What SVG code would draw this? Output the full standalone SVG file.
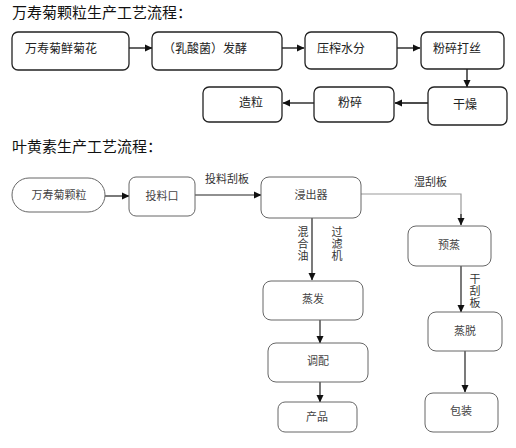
<svg xmlns="http://www.w3.org/2000/svg" width="516" height="448" viewBox="0 0 516 448">
<style>
text{font-family:"Noto Sans CJK SC","Liberation Sans",sans-serif;}
.title{font-size:15px;fill:#111;}
.t1{font-size:12px;fill:#222;}
.t2{font-size:11px;fill:#444;text-anchor:middle;}
.lbl{font-size:11px;fill:#333;}
.vl{font-size:11px;fill:#333;writing-mode:vertical-rl;letter-spacing:1px;}
.b1{fill:#fff;stroke:#222;stroke-width:1.3;}
.b2{fill:#fff;stroke:#666;stroke-width:1;}
.c1{stroke:#111;stroke-width:1.3;fill:none;}
.c2{stroke:#222;stroke-width:1.2;fill:none;}
.c3{stroke:#999;stroke-width:1.2;fill:none;}
</style>
<defs>
<marker id="ah" markerWidth="8" markerHeight="8" refX="7" refY="4" orient="auto" markerUnits="userSpaceOnUse">
<path d="M0,0.5 L7.5,4 L0,7.5 Z" fill="#111"/>
</marker>
</defs>
<text class="title" x="12" y="18">万寿菊颗粒生产工艺流程：</text>
<text class="title" x="12" y="152">叶黄素生产工艺流程：</text>

<g id="connectors">
<line class="c1" x1="129" y1="48" x2="152" y2="48" marker-end="url(#ah)"/>
<line class="c1" x1="282" y1="48" x2="304" y2="48" marker-end="url(#ah)"/>
<line class="c1" x1="397" y1="48" x2="420" y2="48" marker-end="url(#ah)"/>
<line class="c1" x1="467" y1="69" x2="467" y2="87" marker-end="url(#ah)"/>
<line class="c1" x1="428" y1="103" x2="395" y2="103" marker-end="url(#ah)"/>
<line class="c1" x1="314" y1="103" x2="283" y2="103" marker-end="url(#ah)"/>

<line class="c2" x1="105" y1="196" x2="129" y2="196" marker-end="url(#ah)"/>
<line class="c2" x1="195" y1="195" x2="261" y2="195" marker-end="url(#ah)"/>
<polyline class="c3" points="361,194 461,194 461,222"/>
<line class="c2" x1="461" y1="214" x2="461" y2="225" marker-end="url(#ah)"/>
<line class="c2" x1="312" y1="218" x2="312" y2="280" marker-end="url(#ah)"/>
<line class="c2" x1="461" y1="266" x2="461" y2="312" marker-end="url(#ah)"/>
<line class="c2" x1="320" y1="320" x2="320" y2="343" marker-end="url(#ah)"/>
<line class="c2" x1="320" y1="382" x2="320" y2="402" marker-end="url(#ah)"/>
<line class="c2" x1="465" y1="351" x2="465" y2="392" marker-end="url(#ah)"/>
<text class="lbl" x="205" y="183">投料刮板</text>
<text class="lbl" x="414" y="186">湿刮板</text>
<text class="vl" x="303" y="226">混合油</text>
<text class="vl" x="337" y="226">过滤机</text>
<text class="vl" x="475" y="273">干刮板</text>
</g>

<g id="n1"><rect class="b1" x="12" y="32" width="117" height="38" rx="6"/><text class="t1" x="25" y="53">万寿菊鲜菊花</text></g>
<g id="n2"><rect class="b1" x="152" y="32" width="130" height="38" rx="6"/><text class="t1" x="163" y="53">（乳酸菌）发酵</text></g>
<g id="n3"><rect class="b1" x="305" y="32" width="92" height="37" rx="6"/><text class="t1" x="317" y="53">压榨水分</text></g>
<g id="n4"><rect class="b1" x="421" y="32" width="83" height="37" rx="6"/><text class="t1" x="433" y="53">粉碎打丝</text></g>
<g id="n5"><rect class="b1" x="428" y="87" width="79" height="38" rx="6"/><text class="t1" x="453" y="109">干燥</text></g>
<g id="n6"><rect class="b1" x="314" y="87" width="80" height="35" rx="6"/><text class="t1" x="338" y="107">粉碎</text></g>
<g id="n7"><rect class="b1" x="203" y="87" width="79" height="35" rx="6"/><text class="t1" x="239" y="107">造粒</text></g>

<g id="m1"><rect class="b2" x="12" y="178" width="93" height="34" rx="17"/><text class="t2" x="59" y="199">万寿菊颗粒</text></g>
<g id="m2"><rect class="b2" x="129" y="177" width="66" height="39" rx="7"/><text class="t2" x="162" y="200">投料口</text></g>
<g id="m3"><rect class="b2" x="261" y="177" width="100" height="41" rx="8"/><text class="t2" x="311" y="199">浸出器</text></g>
<g id="m4"><rect class="b2" x="408" y="226" width="83" height="40" rx="8"/><text class="t2" x="449" y="249">预蒸</text></g>
<g id="m5"><rect class="b2" x="263" y="281" width="100" height="39" rx="8"/><text class="t2" x="313" y="303">蒸发</text></g>
<g id="m6"><rect class="b2" x="268" y="343" width="100" height="39" rx="8"/><text class="t2" x="318" y="365">调配</text></g>
<g id="m7"><rect class="b2" x="278" y="402" width="79" height="30" rx="7"/><text class="t2" x="317" y="421">产品</text></g>
<g id="m8"><rect class="b2" x="428" y="312" width="74" height="39" rx="8"/><text class="t2" x="465" y="335">蒸脱</text></g>
<g id="m9"><rect class="b2" x="425" y="393" width="73" height="39" rx="8"/><text class="t2" x="461" y="415">包装</text></g>
</svg>
